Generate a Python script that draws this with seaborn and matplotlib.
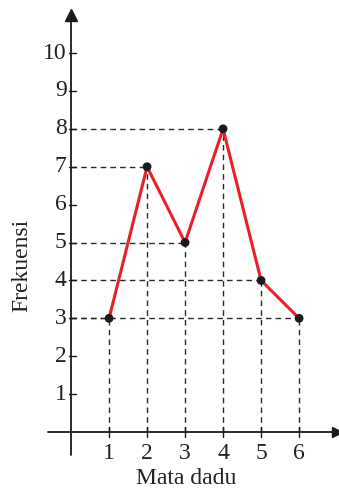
import matplotlib
matplotlib.use('Agg')
from matplotlib import pyplot as plt
import pandas as pd
import seaborn as sns

# data
mata_dadu = [1, 2, 3, 4, 5, 6]
frekuensi = [3, 7, 5, 8, 4, 3]
y_ticks = [1, 2, 3, 4, 5, 6, 7, 8, 9, 10]

df = pd.DataFrame({'Mata dadu': mata_dadu, 'Frekuensi': frekuensi})

sns.set_style('white')
plt.rcParams['font.family'] = ['Liberation Serif', 'DejaVu Serif']

fig = plt.figure(figsize=(3.39, 4.93), dpi=100)
ax = fig.add_axes([0, 0, 1, 1])
ax.set_xlim(-1.87, 7.05)
ax.set_ylim(-1.61, 11.40)

# dashed guide lines
dash = (0, (4, 3))
for x, y in zip(mata_dadu, frekuensi):
    ax.plot([0, x], [y, y], ls=dash, color='#2a2a2a', lw=1, zorder=1)
    ax.plot([x, x], [0, y], ls=dash, color='#2a2a2a', lw=1, zorder=1)

sns.lineplot(data=df, x='Mata dadu', y='Frekuensi', color='#e8202a', lw=2.2, ax=ax, zorder=3)
sns.scatterplot(data=df, x='Mata dadu', y='Frekuensi', color='#1a1a1a', s=40, ax=ax, zorder=4, edgecolor='none')

# axes with arrows
for s in ax.spines.values():
    s.set_visible(False)
ax.plot([-0.6, 7.0], [0, 0], color='#1a1a1a', lw=1.3, clip_on=False)
ax.plot([0, 0], [-0.6, 11.0], color='#1a1a1a', lw=1.3, clip_on=False)
ax.plot(7.0, 0, marker='>', color='#1a1a1a', ms=7, clip_on=False)
ax.plot(0, 11.0, marker='^', color='#1a1a1a', ms=8, clip_on=False)

# ticks
for t in mata_dadu:
    ax.plot([t, t], [-0.12, 0.12], color='#1a1a1a', lw=1)
    ax.text(t, -0.3, str(t), ha='center', va='top', fontsize=17, color='#222222')
for t in y_ticks:
    ax.plot([-0.05, 0.12], [t, t], color='#1a1a1a', lw=1)
    ax.text(-0.12, t, str(t), ha='right', va='center', fontsize=17, color='#222222')

ax.set_xticks([])
ax.set_yticks([])
ax.set_xlabel('')
ax.set_ylabel('')

ax.text(3.03, -1.23, 'Mata dadu', ha='center', va='center', fontsize=17, color='#222222')
ax.text(-1.3, 4.4, 'Frekuensi', ha='center', va='center', rotation=90, fontsize=17, color='#222222')

fig.savefig('out.png', dpi=100)
